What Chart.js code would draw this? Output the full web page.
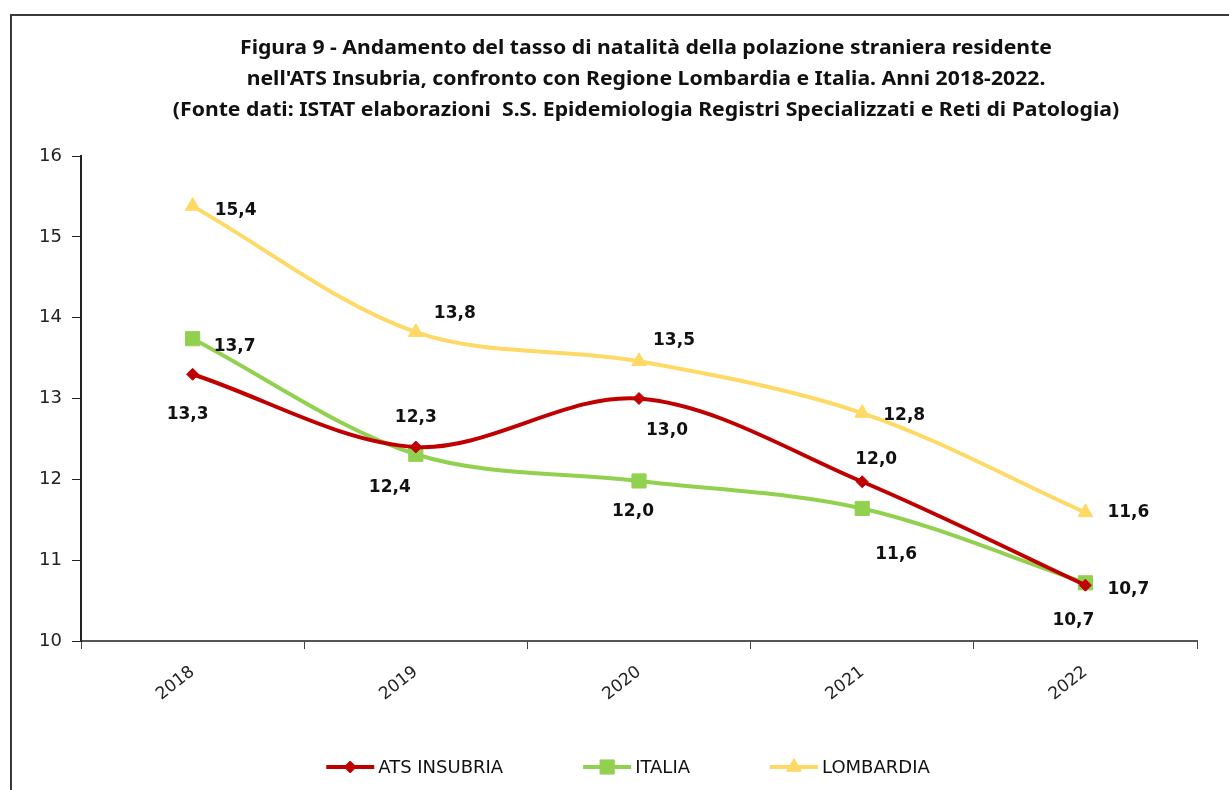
<!DOCTYPE html>
<html>
<head>
<meta charset="utf-8">
<title>Figura 9 - Tasso di natalità popolazione straniera</title>
<script src="https://cdn.jsdelivr.net/npm/chart.js@4.4.1/dist/chart.umd.min.js"></script>
<style>
  html, body { margin: 0; padding: 0; background: #fff; }
  #wrap { position: relative; width: 1229px; height: 790px; }
</style>
</head>
<body>
<div id="wrap"><canvas id="chart" width="1229" height="790"></canvas></div>
<script>
  "use strict";

  // Data
  var years = ["2018", "2019", "2020", "2021", "2022"];
  var atsInsubria = [13.3, 12.4, 13.0, 11.97, 10.69];
  var italia = [13.74, 12.31, 11.98, 11.64, 10.72];
  var lombardia = [15.38, 13.82, 13.46, 12.82, 11.59];
  var yMin = 10;
  var yMax = 16;
  var seriesNames = ["ATS INSUBRIA", "ITALIA", "LOMBARDIA"];
  var titleLines = [
    "Figura 9 - Andamento del tasso di natalità della polazione straniera residente",
    "nell'ATS Insubria, confronto con Regione Lombardia e Italia. Anni 2018-2022.",
    "(Fonte dati: ISTAT elaborazioni  S.S. Epidemiologia Registri Specializzati e Reti di Patologia)"
  ];

  // Where each value label sits relative to its point (dx, dy in px)
  var labelPlacement = [
    [[-5, 40], [-26, 41], [28, 32], [14, -22], [-12, 35]],
    [[42, 8], [0, -37], [-6, 31], [34, 46], [43, 7]],
    [[43, 4], [39, -19], [35, -21], [42, 3], [43, 0]]
  ];

  var axisFont = '"DejaVu Sans", Verdana, sans-serif';

  function fmt(v) {
    return v.toFixed(1).replace(".", ",");
  }

  // Frame, title, value labels and legend
  var figureDecor = {
    id: "figureDecor",
    beforeDraw: function (chart) {
      var ctx = chart.ctx;
      ctx.save();
      ctx.fillStyle = "#fff";
      ctx.fillRect(0, 0, chart.width, chart.height);
      ctx.strokeStyle = "#3a3a3a";
      ctx.lineWidth = 2;
      ctx.beginPath();
      ctx.moveTo(11, chart.height);
      ctx.lineTo(11, 15);
      ctx.lineTo(chart.width, 15);
      ctx.stroke();
      ctx.restore();
    },
    afterDatasetsDraw: function (chart) {
      var ctx = chart.ctx;
      ctx.save();
      ctx.font = "bold 17px " + axisFont;
      ctx.fillStyle = "#111";
      ctx.textAlign = "center";
      ctx.textBaseline = "middle";
      chart.data.datasets.forEach(function (ds, i) {
        var meta = chart.getDatasetMeta(i);
        meta.data.forEach(function (pt, j) {
          var off = labelPlacement[i][j];
          ctx.fillText(fmt(ds.data[j]), pt.x + off[0], pt.y + off[1]);
        });
      });
      ctx.restore();
    },
    afterDraw: function (chart) {
      var ctx = chart.ctx;
      ctx.save();

      // title, squeezed to look like Calibri
      ctx.font = 'bold 20px "Noto Sans", "Open Sans", sans-serif';
      ctx.fillStyle = "#111";
      ctx.textAlign = "center";
      ctx.textBaseline = "middle";
      var squeeze = 812 / ctx.measureText(titleLines[0]).width;
      titleLines.forEach(function (line, i) {
        ctx.save();
        ctx.translate(646, 48 + i * 31);
        ctx.scale(squeeze, 1);
        ctx.fillText(line, 0, 0);
        ctx.restore();
      });

      // legend: short line with marker, then name
      ctx.font = "18px " + axisFont;
      ctx.textAlign = "left";
      var lineLen = 48, gap = 4, spacing = 80, legendY = 767;
      var total = 0;
      chart.data.datasets.forEach(function (ds, i) {
        total += lineLen + gap + ctx.measureText(ds.label).width;
        if (i > 0) total += spacing;
      });
      var x = 628 - total / 2;
      chart.data.datasets.forEach(function (ds) {
        ctx.strokeStyle = ds.borderColor;
        ctx.fillStyle = ds.backgroundColor;
        ctx.lineWidth = 4;
        ctx.beginPath();
        ctx.moveTo(x, legendY);
        ctx.lineTo(x + lineLen, legendY);
        ctx.stroke();
        ctx.lineWidth = 1;
        Chart.helpers.drawPoint(ctx, {
          pointStyle: ds.pointStyle,
          radius: ds.pointRadius,
          rotation: 0,
          borderWidth: 1
        }, x + lineLen / 2, legendY);
        ctx.fillStyle = "#111";
        ctx.fillText(ds.label, x + lineLen + gap, legendY + 1);
        x += lineLen + gap + ctx.measureText(ds.label).width + spacing;
      });
      ctx.restore();
    }
  };

  function makeSeries(label, data, color, style, radius) {
    return {
      label: label,
      data: data,
      borderColor: color,
      backgroundColor: color,
      borderWidth: 4,
      pointStyle: style,
      pointRadius: radius,
      pointBorderWidth: 1,
      pointBackgroundColor: color,
      pointBorderColor: color,
      tension: 0.33,
      fill: false,
      clip: false
    };
  }

  new Chart(document.getElementById("chart"), {
    type: "line",
    data: {
      labels: years,
      datasets: [
        makeSeries(seriesNames[0], atsInsubria, "#C00000", "rectRot", 6),
        makeSeries(seriesNames[1], italia, "#92D050", "rect", 10),
        makeSeries(seriesNames[2], lombardia, "#FFD966", "triangle", 8.5)
      ]
    },
    options: {
      responsive: false,
      animation: false,
      layout: { padding: { top: 156, right: 32, bottom: 79, left: 0 } },
      plugins: {
        legend: { display: false },
        title: { display: false },
        tooltip: { enabled: false }
      },
      scales: {
        x: {
          offset: true,
          grid: {
            offset: true,
            drawOnChartArea: false,
            drawTicks: true,
            tickLength: 8,
            color: "#444"
          },
          border: { display: true, color: "#555", width: 2 },
          ticks: {
            font: { family: axisFont, size: 17 },
            color: "#222",
            minRotation: 38,
            maxRotation: 38,
            padding: 13
          },
          afterFit: function (scale) { scale.height = 70; }
        },
        y: {
          min: yMin,
          max: yMax,
          grid: {
            drawOnChartArea: false,
            drawTicks: true,
            tickLength: 9,
            color: "#222"
          },
          border: { display: true, color: "#222", width: 2 },
          ticks: {
            stepSize: 1,
            font: { family: axisFont, size: 18 },
            color: "#222",
            padding: 10
          },
          afterFit: function (scale) { scale.width = 81; }
        }
      }
    },
    plugins: [figureDecor]
  });
</script>
</body>
</html>
